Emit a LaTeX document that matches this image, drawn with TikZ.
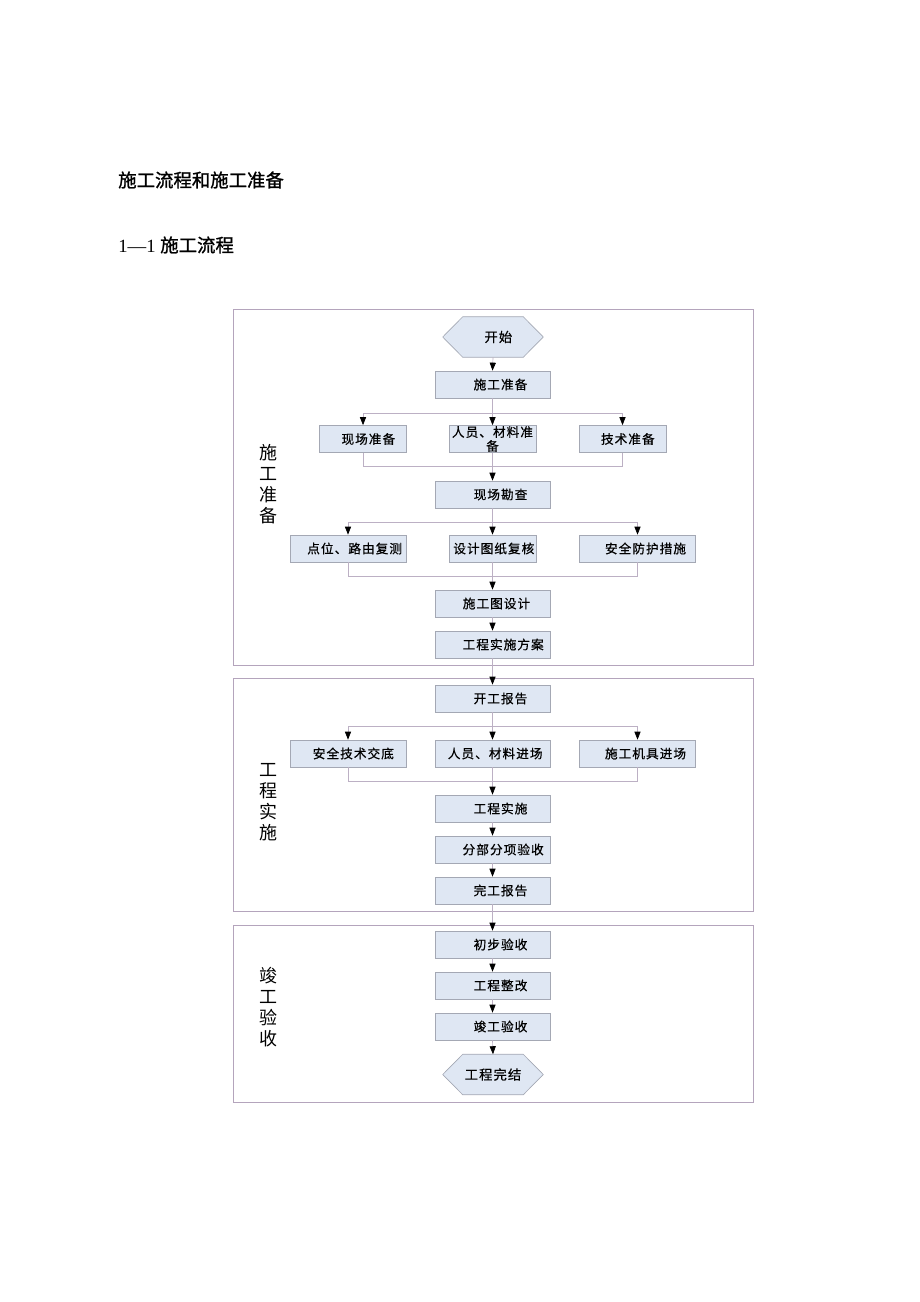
\documentclass[tikz,border=0pt]{standalone}
\usepackage{fontspec}
\setmainfont{Liberation Serif}
\newfontfamily\cjk{Noto Sans CJK SC}
\newfontfamily\cjkb[FakeBold=0.5,LetterSpace=8]{Noto Sans CJK SC}
\newfontfamily\cjkt[FakeBold=1.2]{Noto Sans CJK SC}
\usetikzlibrary{arrows.meta,backgrounds}
\definecolor{boxfill}{HTML}{DFE7F3}
\definecolor{boxline}{HTML}{A4A8B4}
\definecolor{conn}{HTML}{BCB0C4}
\definecolor{frame}{HTML}{B4A4BC}
\tikzset{
  stepbox/.style={draw=boxline, fill=boxfill, line width=0.5pt, minimum height=20.25pt, minimum width=86.25pt, inner sep=0pt, font=\cjkb\fontsize{9.5}{10.5}\selectfont, align=center},
  narrowbox/.style={stepbox, minimum width=65.25pt},
  widebox/.style={stepbox, minimum width=87pt},
  hexnode/.style={minimum width=75pt, minimum height=30pt, inner sep=0pt, font=\cjkb\fontsize{10}{11}\selectfont},
  hexshape/.style={draw=boxline, fill=boxfill, line width=0.5pt},
  ln/.style={draw=conn, line width=0.5pt},
  arr/.style={ln, -{Triangle[length=6pt,width=4.6pt,color=black]}},
  frm/.style={draw=frame, line width=0.6pt},
  side/.style={font=\cjk\fontsize{13.5}{15.75}\selectfont, align=center, inner sep=0pt},
}
\begin{document}
\begin{tikzpicture}[x=0.75pt,y=-0.75pt]
\useasboundingbox (0,0) rectangle (920,1302);
% headings
\node[anchor=west, inner sep=0pt, font=\cjkt\fontsize{13.8}{15}\selectfont] (title) at (118,180) {施工流程和施工准备};
\node[anchor=west, inner sep=0pt, font=\fontsize{14}{15}\selectfont] (sub) at (118,245) {1—1 {\cjkt\fontsize{13.8}{15}\selectfont 施工流程}};
% frames
\draw[frm] (233,309) rectangle (753,665);
\draw[frm] (233,678) rectangle (753,911);
\draw[frm] (233,925) rectangle (753,1102);
% side labels
\node[side] (s1) at (268,484) {施\\工\\准\\备};
\node[side] (s2) at (268,802) {工\\程\\实\\施};
\node[side] (s3) at (268,1007) {竣\\工\\验\\收};
% nodes
\node[hexnode] (start) at (493,337) {\hspace*{8pt}开始};
\node[stepbox] (zb) at (492.5,384.5) {\hspace*{12pt}施工准备};
\node[narrowbox] (xc) at (363,439) {\hspace*{8pt}现场准备};
\node[narrowbox] (ry) at (492.5,439) {人员、材料准\\备};
\node[narrowbox] (js) at (622.5,439) {\hspace*{8pt}技术准备};
\node[stepbox] (kc) at (492.5,494.5) {\hspace*{12pt}现场勘查};
\node[widebox] (dw) at (348,548.5) {\hspace*{10pt}点位、路由复测};
\node[narrowbox] (sj) at (492.5,548.5) {\hspace*{2pt}设计图纸复核};
\node[widebox] (aq) at (637.5,548.5) {\hspace*{12pt}安全防护措施};
\node[stepbox] (sg) at (492.5,603.5) {\hspace*{6pt}施工图设计};
\node[stepbox] (fa) at (492.5,644.5) {\hspace*{16pt}工程实施方案};
\node[stepbox] (kg) at (492.5,698.5) {\hspace*{12pt}开工报告};
\node[widebox] (jd) at (348,753.5) {\hspace*{8pt}安全技术交底};
\node[stepbox] (jc) at (492.5,753.5) {\hspace*{4pt}人员、材料进场};
\node[widebox] (jj) at (637.5,753.5) {\hspace*{12pt}施工机具进场};
\node[stepbox] (ss) at (492.5,808.5) {\hspace*{12pt}工程实施};
\node[stepbox] (fb) at (492.5,849.5) {\hspace*{16pt}分部分项验收};
\node[stepbox] (wg) at (492.5,890.5) {\hspace*{12pt}完工报告};
\node[stepbox] (cb) at (492.5,944.5) {\hspace*{12pt}初步验收};
\node[stepbox] (zg) at (492.5,985.5) {\hspace*{12pt}工程整改};
\node[stepbox] (jg) at (492.5,1026.5) {\hspace*{12pt}竣工验收};
\node[hexnode] (end) at (493,1074.5) {工程完结};
\begin{scope}[on background layer]
\draw[hexshape] (start.west) -- ([xshift=15pt]start.north west) -- ([xshift=-15pt]start.north east) -- (start.east) -- ([xshift=-15pt]start.south east) -- ([xshift=15pt]start.south west) -- cycle;
\draw[hexshape] (end.west) -- ([xshift=15pt]end.north west) -- ([xshift=-15pt]end.north east) -- (end.east) -- ([xshift=-15pt]end.south east) -- ([xshift=15pt]end.south west) -- cycle;
\end{scope}
% branch coordinates
\coordinate (b1) at (492.5,413);
\coordinate (m1) at (492.5,466);
\coordinate (b2) at (492.5,522);
\coordinate (m2) at (492.5,576);
\coordinate (b3) at (492.5,726);
\coordinate (m3) at (492.5,781);
% connectors
\draw[arr] (start.south) -- (zb.north);
\draw[ln] (zb.south) -- (b1);
\draw[arr] (b1) -| (xc.north);
\draw[arr] (b1) -| (js.north);
\draw[arr] (b1) -- (ry.north);
\draw[ln] (xc.south) |- (m1);
\draw[ln] (js.south) |- (m1);
\draw[ln] (ry.south) -- (m1);
\draw[arr] (m1) -- (kc.north);
\draw[ln] (kc.south) -- (b2);
\draw[arr] (b2) -| (dw.north);
\draw[arr] (b2) -| (aq.north);
\draw[arr] (b2) -- (sj.north);
\draw[ln] (dw.south) |- (m2);
\draw[ln] (aq.south) |- (m2);
\draw[ln] (sj.south) -- (m2);
\draw[arr] (m2) -- (sg.north);
\draw[arr] (sg.south) -- (fa.north);
\draw[arr] (fa.south) -- (kg.north);
\draw[ln] (kg.south) -- (b3);
\draw[arr] (b3) -| (jd.north);
\draw[arr] (b3) -| (jj.north);
\draw[arr] (b3) -- (jc.north);
\draw[ln] (jd.south) |- (m3);
\draw[ln] (jj.south) |- (m3);
\draw[ln] (jc.south) -- (m3);
\draw[arr] (m3) -- (ss.north);
\draw[arr] (ss.south) -- (fb.north);
\draw[arr] (fb.south) -- (wg.north);
\draw[arr] (wg.south) -- (cb.north);
\draw[arr] (cb.south) -- (zg.north);
\draw[arr] (zg.south) -- (jg.north);
\draw[arr] (jg.south) -- (end.north);
\end{tikzpicture}
\end{document}
